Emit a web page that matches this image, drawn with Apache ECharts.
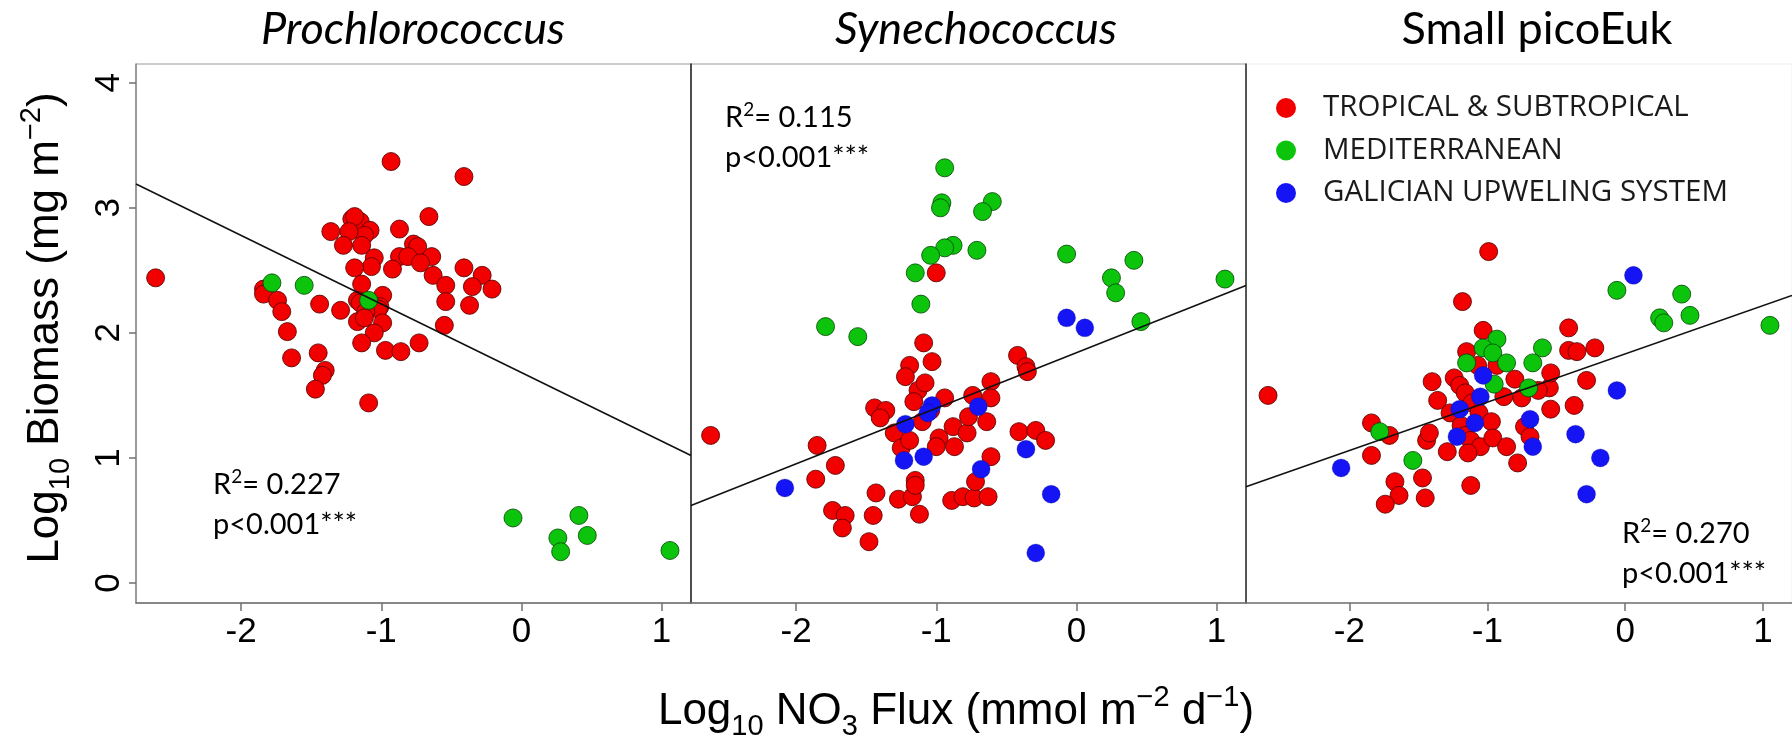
<!DOCTYPE html>
<html>
<head>
<meta charset="utf-8">
<script src="https://cdn.jsdelivr.net/npm/echarts@6/dist/echarts.min.js"></script>
<style>
html,body{margin:0;padding:0;background:#fff;}
#chart{width:1792px;height:737px;}
</style>
</head>
<body>
<div id="chart"></div>
<script>
// ---------- data ----------
const panelTitles = ['Prochlorococcus', 'Synechococcus', 'Small picoEuk'];
const groupNames = ['TROPICAL & SUBTROPICAL', 'MEDITERRANEAN', 'GALICIAN UPWELING SYSTEM'];
const xTicks = [-2, -1, 0, 1];
const yTicks = [0, 1, 2, 3, 4];
const r2Values = ['0.227', '0.115', '0.270'];
const pValues = ['p<0.001***', 'p<0.001***', 'p<0.001***'];
const fitSlope = [-0.548, 0.444, 0.386];
const fitIntercept = [1.683, 1.841, 1.832];

const proTropical = [[-2.61,2.44],[-0.93,3.37],[-0.41,3.25],[-0.66,2.93],[-1.21,2.91],[-1.15,2.89],[-1.19,2.93],[-1.36,2.81],[-1.08,2.82],[-1.12,2.78],[-1.23,2.81],[-0.87,2.83],[-1.27,2.70],[-1.14,2.70],[-0.77,2.71],[-0.74,2.69],[-0.87,2.61],[-0.81,2.61],[-0.64,2.61],[-0.72,2.56],[-1.05,2.60],[-1.07,2.53],[-1.19,2.52],[-0.92,2.51],[-0.63,2.46],[-0.41,2.52],[-0.28,2.46],[-0.35,2.37],[-0.21,2.35],[-0.54,2.38],[-1.14,2.39],[-1.84,2.35],[-1.84,2.31],[-1.74,2.26],[-1.71,2.17],[-1.44,2.23],[-1.29,2.18],[-1.17,2.26],[-1.15,2.24],[-0.99,2.30],[-1.01,2.21],[-1.02,2.19],[-1.11,2.17],[-0.54,2.25],[-0.37,2.22],[-1.17,2.09],[-1.12,2.12],[-0.99,2.08],[-0.55,2.06],[-1.05,2.00],[-1.67,2.01],[-1.14,1.92],[-0.97,1.86],[-0.86,1.85],[-0.73,1.92],[-1.45,1.84],[-1.64,1.80],[-1.40,1.70],[-1.42,1.66],[-1.47,1.55],[-1.09,1.44]];
const proMediterranean = [[-1.78,2.40],[-1.55,2.38],[-1.09,2.26],[-0.06,0.52],[0.41,0.54],[0.26,0.36],[0.28,0.25],[0.47,0.38],[1.06,0.26]];
const proGalician = [];

const synTropical = [[-1.00,2.48],[-1.09,1.92],[-0.42,1.82],[-1.19,1.74],[-1.03,1.77],[-0.36,1.73],[-2.61,1.18],[-1.85,1.10],[-1.72,0.94],[-1.86,0.83],[-1.74,0.58],[-1.65,0.54],[-1.67,0.44],[-1.48,0.33],[-1.45,0.54],[-1.43,0.72],[-1.44,1.40],[-1.36,1.38],[-1.40,1.32],[-1.27,0.67],[-1.17,0.69],[-1.15,0.82],[-1.15,0.78],[-1.12,0.55],[-1.30,1.20],[-1.25,1.08],[-1.19,1.14],[-1.22,1.65],[-1.13,1.54],[-1.08,1.60],[-1.16,1.45],[-0.94,1.48],[-1.10,1.29],[-0.98,1.16],[-1.00,1.09],[-0.88,1.25],[-0.87,1.09],[-0.89,0.66],[-0.81,0.69],[-0.73,0.68],[-0.63,0.69],[-0.72,0.81],[-0.78,1.20],[-0.77,1.33],[-0.64,1.29],[-0.74,1.50],[-0.61,1.61],[-0.61,1.48],[-0.61,1.01],[-0.41,1.21],[-0.29,1.22],[-0.22,1.14],[-0.35,1.69],[-1.04,1.38]];
const synMediterranean = [[-0.94,3.32],[-0.96,3.04],[-0.97,3.00],[-0.60,3.05],[-0.67,2.97],[-0.88,2.70],[-0.94,2.68],[-1.04,2.62],[-0.71,2.66],[-1.15,2.48],[-1.11,2.23],[-1.79,2.05],[-1.56,1.97],[-0.07,2.63],[0.41,2.58],[0.25,2.44],[0.28,2.32],[0.46,2.09],[1.06,2.43]];
const synGalician = [[-0.07,2.12],[0.06,2.04],[-2.08,0.76],[-1.22,1.27],[-1.23,0.98],[-1.09,1.01],[-1.03,1.42],[-1.06,1.36],[-0.70,1.41],[-0.68,0.91],[-0.36,1.07],[-0.18,0.71],[-0.29,0.24]];

const picoTropical = [[-0.99,2.65],[-1.18,2.25],[-1.03,2.02],[-0.41,2.04],[-0.41,1.86],[-0.35,1.85],[-0.22,1.88],[-1.15,1.85],[-2.59,1.50],[-1.40,1.61],[-1.24,1.64],[-1.20,1.58],[-1.36,1.46],[-1.27,1.36],[-1.16,1.52],[-1.11,1.44],[-1.06,1.36],[-0.97,1.29],[-1.19,1.26],[-1.16,1.18],[-1.12,1.14],[-1.05,1.09],[-1.14,1.04],[-0.96,1.16],[-0.86,1.09],[-0.78,0.96],[-1.29,1.05],[-1.44,1.14],[-1.42,1.20],[-1.84,1.28],[-1.71,1.18],[-1.84,1.02],[-1.47,0.84],[-1.67,0.81],[-1.64,0.70],[-1.74,0.63],[-1.45,0.68],[-1.12,0.78],[-0.73,1.25],[-0.69,1.17],[-0.54,1.39],[-0.55,1.56],[-0.63,1.54],[-0.75,1.48],[-0.88,1.49],[-0.80,1.63],[-0.54,1.68],[-0.37,1.42],[-0.28,1.62],[-1.07,1.74],[-0.93,1.74]];
const picoMediterranean = [[-0.06,2.34],[0.41,2.31],[0.25,2.12],[0.28,2.08],[0.47,2.14],[1.05,2.06],[-0.93,1.95],[-1.03,1.88],[-0.96,1.84],[-0.60,1.88],[-1.15,1.76],[-0.86,1.76],[-0.67,1.76],[-1.78,1.21],[-1.54,0.98],[-0.95,1.59],[-0.70,1.56]];
const picoGalician = [[0.06,2.46],[-2.06,0.92],[-1.22,1.17],[-1.20,1.39],[-1.09,1.28],[-1.05,1.49],[-1.03,1.66],[-0.69,1.31],[-0.67,1.09],[-0.36,1.19],[-0.18,1.00],[-0.28,0.71],[-0.06,1.54]];

// ---------- layout / style ----------
const panels = [
  [proTropical, proMediterranean, proGalician],
  [synTropical, synMediterranean, synGalician],
  [picoTropical, picoMediterranean, picoGalician]
];
const X_MIN = -2.75, X_MAX = 1.21, Y_MIN = -0.16, Y_MAX = 4.15;
const gridLeft = [136, 691, 1246];
const GRID_TOP = 64, GRID_W = 555, GRID_H = 539;
const fills = ['#f20000', '#0dc40d', '#1414f5'];
const borders = ['rgba(90,0,0,0.85)', 'rgba(0,70,0,0.8)', 'rgba(0,0,120,0.25)'];
const AX_FONT = '"Liberation Sans", Arial, sans-serif';
const CAL_FONT = 'Lato, "Open Sans", sans-serif';

const grids = [], xAxes = [], yAxes = [], series = [], graphics = [];
for (let i = 0; i < 3; i++) {
  grids.push({left: gridLeft[i], top: GRID_TOP, width: GRID_W, height: GRID_H,
    show: true, borderColor: i === 2 ? '#eeeeee' : '#9a9a9a', borderWidth: 1, backgroundColor: 'transparent'});
  xAxes.push({type: 'value', gridIndex: i, min: X_MIN, max: X_MAX,
    axisLine: {show: true, onZero: false, lineStyle: {color: '#707070', width: 1.5}},
    axisTick: {show: true, customValues: xTicks, length: 8, lineStyle: {color: '#707070', width: 1.5}},
    axisLabel: {show: true, customValues: xTicks, margin: 12, fontSize: 35, color: '#000', fontFamily: AX_FONT},
    splitLine: {show: false}});
  if (i === 0) {
    yAxes.push({type: 'value', gridIndex: i, min: Y_MIN, max: Y_MAX,
      axisLine: {show: true, onZero: false, lineStyle: {color: '#8a8a8a', width: 1.5}},
      axisTick: {show: true, customValues: yTicks, length: 7, lineStyle: {color: '#707070', width: 1.5}},
      axisLabel: {show: true, customValues: yTicks, rotate: 90, margin: 9, fontSize: 35, color: '#000', fontFamily: AX_FONT},
      splitLine: {show: false}});
  } else {
    yAxes.push({type: 'value', gridIndex: i, min: Y_MIN, max: Y_MAX,
      axisLine: {show: true, onZero: false, lineStyle: {color: '#333', width: 1.6}},
      axisTick: {show: false}, axisLabel: {show: false}, splitLine: {show: false}});
  }
  for (let g = 0; g < 3; g++) {
    series.push({type: 'scatter', name: groupNames[g], xAxisIndex: i, yAxisIndex: i,
      data: panels[i][g], symbol: 'circle', symbolSize: 18, z: 2 + g,
      itemStyle: {color: fills[g], borderColor: borders[g], borderWidth: 1, opacity: 1}});
  }
  series.push({type: 'line', name: 'fit' + i, xAxisIndex: i, yAxisIndex: i, z: 10,
    data: [[X_MIN, fitIntercept[i] + fitSlope[i] * X_MIN], [X_MAX, fitIntercept[i] + fitSlope[i] * X_MAX]],
    symbol: 'none', silent: true, lineStyle: {color: '#111', width: 1.6}});
}

// panel titles
const titleX = [413, 976, 1537];
const titleStyle = ['italic', 'italic', 'normal'];
for (let i = 0; i < 3; i++) {
  graphics.push({type: 'text', x: titleX[i], y: 29, z: 20,
    style: {text: panelTitles[i], font: titleStyle[i] + ' 45px ' + CAL_FONT, fill: '#000',
      textAlign: 'center', textVerticalAlign: 'middle'}});
}
// R2 / p annotations
const annX = [213, 725, 1622], annY = [485, 118, 534];
const richAnn = {
  a: {fontFamily: 'Lato', fontSize: 29, lineHeight: 36, fill: '#000', color: '#000'},
  s: {fontFamily: 'Lato', fontSize: 19, lineHeight: 20, verticalAlign: 'top', fill: '#000', color: '#000'}
};
for (let i = 0; i < 3; i++) {
  graphics.push({type: 'text', x: annX[i], y: annY[i], z: 20,
    style: {text: '{a|R}{s|2}{a|= ' + r2Values[i] + '}', rich: richAnn, textAlign: 'left', textVerticalAlign: 'middle'}});
  graphics.push({type: 'text', x: annX[i], y: annY[i] + 40, z: 20,
    style: {text: pValues[i], font: '29px Lato', fill: '#000', textAlign: 'left', textVerticalAlign: 'middle'}});
}
// axis titles
const richAxis = {
  m: {fontFamily: AX_FONT, fontSize: 44, lineHeight: 58, color: '#000', fill: '#000'},
  sub: {fontFamily: AX_FONT, fontSize: 29, lineHeight: 27, verticalAlign: 'bottom', color: '#000', fill: '#000'},
  sup: {fontFamily: AX_FONT, fontSize: 29, lineHeight: 27, verticalAlign: 'top', color: '#000', fill: '#000'}
};
graphics.push({type: 'text', x: 956, y: 712, z: 20,
  style: {text: '{m|Log}{sub|10}{m| NO}{sub|3}{m| Flux (mmol m}{sup|\u22122}{m| d}{sup|\u22121}{m|)}',
    rich: richAxis, textAlign: 'center', textVerticalAlign: 'middle'}});
graphics.push({type: 'text', x: 46, y: 328, rotation: Math.PI / 2, z: 20,
  style: {text: '{m|Log}{sub|10}{m| Biomass (mg m}{sup|\u22122}{m|)}',
    rich: richAxis, textAlign: 'center', textVerticalAlign: 'middle'}});

const option = {
  backgroundColor: '#ffffff',
  animation: false,
  grid: grids,
  xAxis: xAxes,
  yAxis: yAxes,
  legend: {
    data: groupNames, orient: 'vertical', left: 1276, top: 93, padding: 0,
    icon: 'circle', itemWidth: 20, itemHeight: 20, itemGap: 12.5,
    itemStyle: {borderWidth: 0},
    textStyle: {fontFamily: '"Open Sans", sans-serif', fontSize: 29.5, color: '#1a1a1a', lineHeight: 30, padding: [0, 0, 0, 22]},
    selectedMode: false
  },
  series: series,
  graphic: graphics
};
const chart = echarts.init(document.getElementById('chart'), null, {renderer: 'canvas'});
chart.setOption(option);
</script>
</body>
</html>
